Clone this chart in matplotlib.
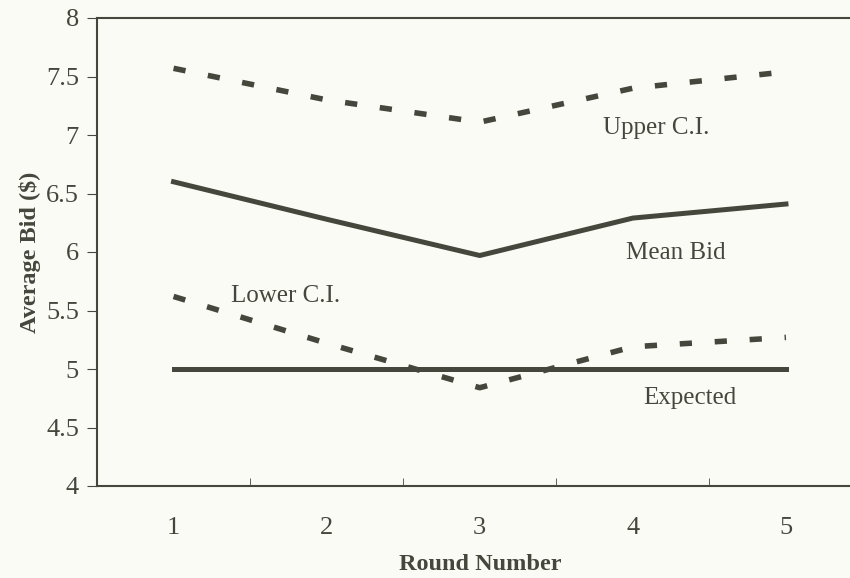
import matplotlib
matplotlib.use("Agg")
import matplotlib.pyplot as plt

rounds = [1, 2, 3, 4, 5]
upper_ci = [7.57, 7.30, 7.11, 7.40, 7.54]
mean_bid = [6.60, 6.28, 5.97, 6.29, 6.41]
lower_ci = [5.62, 5.22, 4.84, 5.19, 5.27]
expected = [5.0, 5.0, 5.0, 5.0, 5.0]

ink = "#46473c"
bg = "#fbfbf6"
plt.rcParams["font.family"] = ["Liberation Serif", "DejaVu Serif"]

fig = plt.figure(figsize=(8.5, 5.78), dpi=100, facecolor=bg)
ax = fig.add_axes([97 / 850, 92 / 578, 765.5 / 850, 468 / 578], facecolor=bg)

# confidence bands are short heavy dashes, mean and expected solid
ax.plot(rounds, upper_ci, color=ink, lw=4, dashes=(2.2, 4.1))
ax.plot(rounds, mean_bid, color=ink, lw=3.6)
ax.plot(rounds, lower_ci, color=ink, lw=4, dashes=(2.2, 4.1))
ax.plot(rounds, expected, color=ink, lw=3.6)

ax.text(4.15, 7.06, "Upper C.I.", color=ink, fontsize=18, ha="center", va="center")
ax.text(4.28, 5.99, "Mean Bid", color=ink, fontsize=18, ha="center", va="center")
ax.text(1.73, 5.62, "Lower C.I.", color=ink, fontsize=18, ha="center", va="center")
ax.text(4.37, 4.75, "Expected", color=ink, fontsize=18, ha="center", va="center")

ax.set_xlim(0.5, 5.5)
ax.set_ylim(4, 8)
ax.set_yticks([4, 4.5, 5, 5.5, 6, 6.5, 7, 7.5, 8])
ax.set_yticklabels(["4", "4.5", "5", "5.5", "6", "6.5", "7", "7.5", "8"])
ax.set_xticks(rounds)
ax.set_xticklabels([str(r) for r in rounds])
ax.set_xticks([1.5, 2.5, 3.5, 4.5], minor=True)
ax.tick_params(axis="x", which="major", length=0, pad=22, labelsize=19, labelcolor=ink)
ax.tick_params(axis="x", which="minor", length=6, direction="in", color=ink)
ax.tick_params(axis="y", length=7, direction="out", color=ink, labelsize=19, labelcolor=ink, pad=6)

for side in ["left", "bottom", "top"]:
    ax.spines[side].set_color(ink)
    ax.spines[side].set_linewidth(1.5)
ax.spines["right"].set_visible(False)

ax.set_xlabel("Round Number", fontsize=17.5, fontweight="bold", color=ink, va="center")
ax.set_ylabel("Average Bid ($)", fontsize=17.5, fontweight="bold", color=ink, va="center")
ax.xaxis.set_label_coords((480 - 97) / 765.5, (486 - 565) / 468)
ax.yaxis.set_label_coords((30 - 97) / 765.5, (486 - 252) / 468)

fig.savefig("out.png", dpi=100, facecolor=bg)
